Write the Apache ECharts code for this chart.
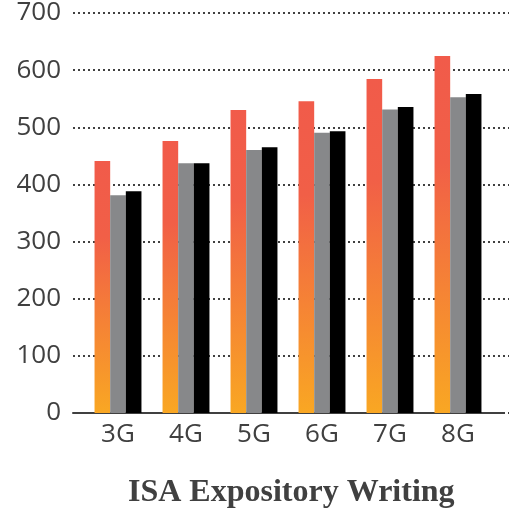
<!DOCTYPE html>
<html>
<head>
<meta charset="utf-8">
<script src="https://cdn.jsdelivr.net/npm/echarts@6/dist/echarts.min.js"></script>
<style>html,body{margin:0;padding:0;background:#fff;}#c{width:509px;height:508px;}</style>
</head>
<body>
<div id="c"></div>
<script>
const categories = ['3G', '4G', '5G', '6G', '7G', '8G'];
const seriesA = [440, 475, 529, 544, 583, 623];
const seriesB = [380, 436, 459, 489, 530, 551];
const seriesC = [387, 436, 464, 492, 534, 557];
const yTicks = [0, 100, 200, 300, 400, 500, 600, 700];
const chartTitle = 'ISA Expository Writing';

const chart = echarts.init(document.getElementById('c'), null, {renderer: 'canvas'});
const txt = '#404040';
const gradient = new echarts.graphic.LinearGradient(0, 0, 0, 1, [
  {offset: 0, color: '#F15B4A'},
  {offset: 0.3, color: '#F15F47'},
  {offset: 1, color: '#F9A723'}
]);
chart.setOption({
  animation: false,
  backgroundColor: '#fff',
  title: {
    text: chartTitle,
    left: 123, top: 472,
    textStyle: {fontFamily: 'Liberation Serif', fontWeight: 'bold', fontSize: 32, color: txt}
  },
  grid: [
    {left: 73, right: 0, top: 12, bottom: 95},
    {left: 84, right: 17, top: 12, bottom: 95},
    {left: 73, right: 6, top: 12, bottom: 95}
  ],
  xAxis: [
    {gridIndex: 0, type: 'value', show: false},
    {gridIndex: 1, type: 'category', data: categories,
      axisLine: {show: false}, axisTick: {show: false},
      axisLabel: {color: txt, fontSize: 26, fontFamily: 'Open Sans', margin: 9}},
    {gridIndex: 2, type: 'value', min: 0, max: 1,
      axisLine: {show: true, lineStyle: {color: '#404040', width: 2}},
      axisTick: {show: false}, axisLabel: {show: false}, splitLine: {show: false}}
  ],
  yAxis: [
    {gridIndex: 0, type: 'value', min: yTicks[0], max: yTicks[yTicks.length - 1], interval: 100,
      axisLine: {show: false}, axisTick: {show: false},
      axisLabel: {color: txt, fontSize: 26, fontFamily: 'Open Sans', margin: 12},
      splitLine: {show: true, lineStyle: {color: '#404040', width: 2, type: [2, 3]}}},
    {gridIndex: 1, type: 'value', min: 0, max: 700, show: false},
    {gridIndex: 2, type: 'value', min: 0, max: 700, show: false}
  ],
  series: [
    {type: 'bar', xAxisIndex: 1, yAxisIndex: 1, data: seriesA, barGap: '0%', barCategoryGap: '31%',
      itemStyle: {color: gradient}},
    {type: 'bar', xAxisIndex: 1, yAxisIndex: 1, data: seriesB, barGap: '0%', barCategoryGap: '31%',
      itemStyle: {color: '#87888A'}},
    {type: 'bar', xAxisIndex: 1, yAxisIndex: 1, data: seriesC, barGap: '0%', barCategoryGap: '31%',
      itemStyle: {color: '#000000'}}
  ]
});
</script>
</body>
</html>
